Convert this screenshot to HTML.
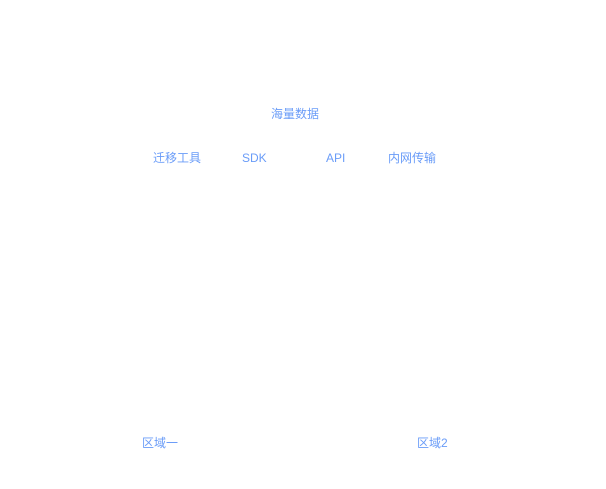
<!DOCTYPE html>
<html><head><meta charset="utf-8"><style>
html,body{margin:0;padding:0;background:#fff;width:606px;height:489px;overflow:hidden}
span{position:absolute;font-family:"Liberation Sans","Noto Sans CJK SC",sans-serif;font-size:12px;line-height:14px;color:#6a9cf8;white-space:nowrap}
</style></head><body>
<span style="left:271px;top:107px">海量数据</span>
<span style="left:153px;top:151px">迁移工具</span>
<span style="left:242px;top:151px">SDK</span>
<span style="left:326px;top:151px">API</span>
<span style="left:388px;top:151px">内网传输</span>
<span style="left:142px;top:436px">区域一</span>
<span style="left:417px;top:436px">区域2</span>
</body></html>
